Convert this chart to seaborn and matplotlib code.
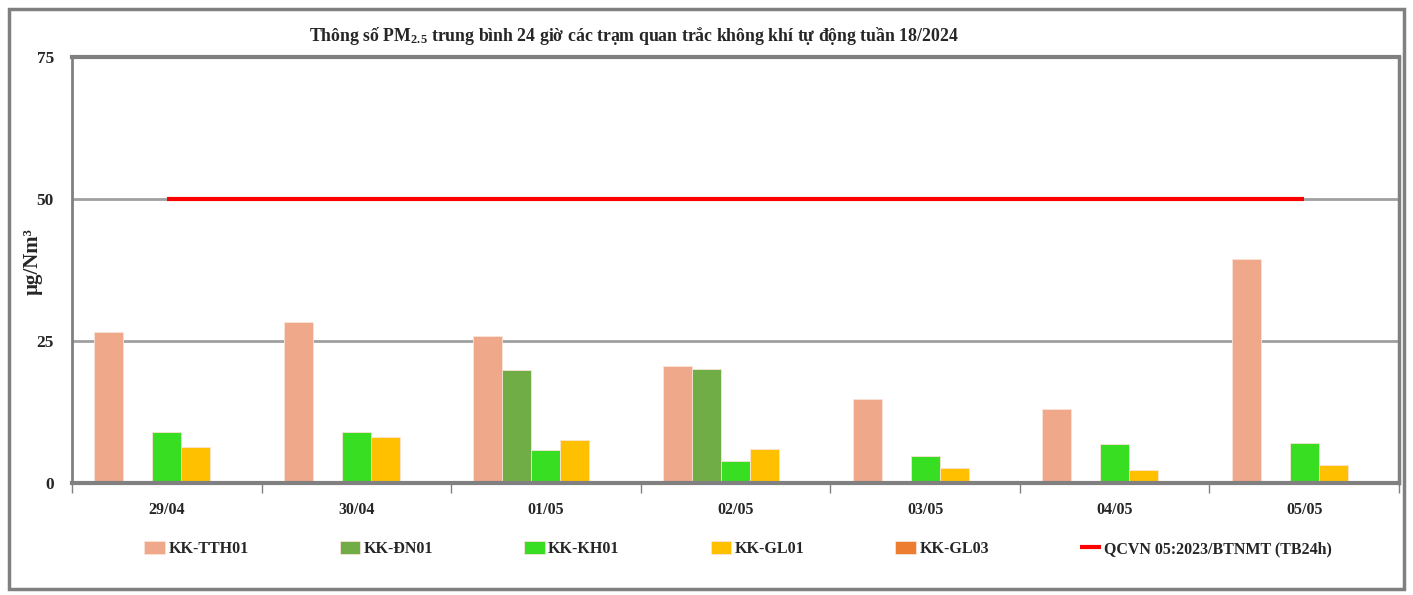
import pandas as pd
import seaborn as sns
import matplotlib.pyplot as plt
from matplotlib.patches import Rectangle

# Data
dates = ['29/04', '30/04', '01/05', '02/05', '03/05', '04/05', '05/05']
stations = ['KK-TTH01', 'KK-ĐN01', 'KK-KH01', 'KK-GL01', 'KK-GL03']
tth01 = [26.6, 28.4, 25.9, 20.6, 14.8, 13.1, 39.4]
dn01 = [0, 0, 19.9, 20.1, 0, 0, 0]
kh01 = [8.9, 8.9, 5.8, 3.8, 4.8, 6.8, 7.1]
gl01 = [6.4, 8.1, 7.6, 5.9, 2.6, 2.3, 3.1]
gl03 = [0, 0, 0, 0, 0, 0, 0]
limit = [50] * len(dates)
limit_label = 'QCVN 05:2023/BTNMT (TB24h)'
yticks = [0, 25, 50, 75]

colors = ['#F0A88A', '#70AD47', '#38DE22', '#FFC000', '#ED7D31']

# long table for seaborn
df = pd.DataFrame({'date': dates * 5,
                   'station': [s for s in stations for _ in dates],
                   'value': tth01 + dn01 + kh01 + gl01 + gl03})

sns.set_style('white')
plt.rcParams['font.family'] = ['Liberation Serif', 'DejaVu Serif']
plt.rcParams['font.weight'] = 'bold'
plt.rcParams['mathtext.fontset'] = 'custom'
plt.rcParams['mathtext.rm'] = 'Liberation Serif:bold'
plt.rcParams['mathtext.default'] = 'rm'

fig = plt.figure(figsize=(14.13, 5.95), dpi=100)
ax = fig.add_axes([72 / 1413, 112 / 595, 1327 / 1413, 426 / 595])

sns.barplot(data=df, x='date', y='value', hue='station', order=dates,
            hue_order=stations, palette=colors, saturation=1, width=0.765, gap=0,
            edgecolor='#FBE3D8', linewidth=0.6, ax=ax)
ax.plot(dates, limit, color='#FF0000', lw=3, solid_capstyle='butt', label=limit_label)

ax.set_xlim(-0.5, len(dates) - 0.5)
ax.set_ylim(0, 75)
ax.set_yticks(yticks)
ax.set_yticklabels([str(t) for t in yticks], fontsize=12.5, fontweight='bold')
for t in yticks[1:3]:
    ax.axhline(t, color='#A0A0A0', lw=2, zorder=0)

ax.set_xticks(range(len(dates)))
ax.set_xticklabels(dates, fontsize=11.5, fontweight='bold')
ax.set_xticks([i - 0.5 for i in range(len(dates) + 1)], minor=True)
ax.tick_params(axis='x', which='major', length=0, pad=14)
ax.tick_params(axis='x', which='minor', length=7, width=1, color='#808080', direction='out', bottom=True)
ax.tick_params(axis='y', length=0, pad=13)

for side, lw in [('left', 2), ('top', 3), ('right', 2.5), ('bottom', 3)]:
    ax.spines[side].set_visible(True)
    ax.spines[side].set_color('#808080')
    ax.spines[side].set_linewidth(lw)

ax.set_xlabel('')
ax.set_ylabel('µg/Nm³', fontsize=15, fontweight='bold')
ax.yaxis.set_label_coords(-0.022, 0.52)

handles, labels = ax.get_legend_handles_labels()
if ax.legend_:
    ax.legend_.remove()
order = stations + [limit_label]
hmap = dict(zip(labels, handles))
fig.legend([hmap[l] for l in order], order, ncol=6, loc='center left',
           bbox_to_anchor=(130 / 1413, 1 - 549 / 595), frameon=False,
           fontsize=11.5, handlelength=1.3, handleheight=0.9, handletextpad=0.2,
           columnspacing=5.7)

fig.text(634 / 1413, 1 - 36 / 595,
         'Thông số PM$_{2.5}$ trung bình 24 giờ các trạm quan trắc không khí tự động tuần 18/2024',
         ha='center', va='center', fontsize=12.8, fontweight='bold')

fig.patches.append(Rectangle((9 / 1413, 6 / 595), 1395 / 1413, 580 / 595,
                             transform=fig.transFigure, fill=False,
                             edgecolor='#808080', lw=2.5))

fig.savefig('out.png', dpi=100, facecolor='white')
